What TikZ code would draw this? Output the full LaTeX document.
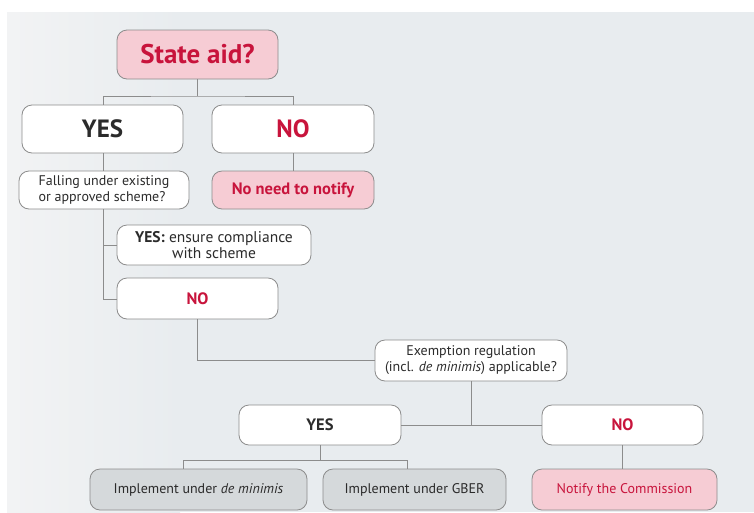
\documentclass[tikz,border=0pt]{standalone}
\usepackage{fontspec}
\setmainfont{PT Sans}
\begin{document}
\definecolor{panel}{HTML}{E8ECEF}
\definecolor{panelL}{HTML}{F2F3F4}
\definecolor{edge}{HTML}{8C8C8C}
\definecolor{hot}{HTML}{C8143C}
\definecolor{ink}{HTML}{2B2B2B}
\definecolor{pinkfill}{HTML}{F6CCD4}
\definecolor{grayfill}{HTML}{D5D9DB}
\tikzset{
  box/.style={draw=edge, line width=0.8pt, rounded corners=10pt, fill=white,
    inner sep=0pt, text=ink},
  pinkbox/.style={box, fill=pinkfill},
  graybox/.style={box, fill=grayfill},
  big/.style={font=\fontsize{25}{27}\selectfont\bfseries},
  mid/.style={font=\fontsize{16.5}{18}\selectfont\bfseries},
  small/.style={font=\fontsize{14}{16}\selectfont},
  link/.style={draw=edge, line width=0.8pt},
}
\begin{tikzpicture}[x=1pt, y=-1pt]
  \useasboundingbox (0,0) rectangle (754,512);
  % backdrop panel
  \shade[left color=panelL, right color=panel] (7,12) rectangle (180,512);
  \fill[panel] (179.5,12) rectangle (754,512);
  \fill[panelL] (7,12) rectangle (20,512);

  % top level
  \node[pinkbox, font=\fontsize{27}{29}\selectfont\bfseries, text=hot, minimum width=161pt, minimum height=49pt] (sa) at (197.5,54.5) {State aid?};
  \node[box, big, minimum width=161pt, minimum height=48pt] (yes1) at (102.5,129) {YES};
  \node[box, big, text=hot, minimum width=162pt, minimum height=48pt] (no1) at (293,129) {NO};

  % second level
  \node[box, small, minimum width=170pt, minimum height=38pt, align=left] (fall) at (104,190)
    {Falling under existing\\or approved scheme?};
  \node[pinkbox, mid, text=hot, minimum width=162pt, minimum height=38pt] (nonote) at (293,190) {No need to notify};

  % scheme branch
  \node[box, font=\fontsize{15.5}{16}\selectfont, minimum width=194pt, minimum height=40pt, align=center] (yescomp) at (214,245)
    {\textbf{YES:} ensure compliance\\with scheme};
  \node[box, mid, text=hot, minimum width=161pt, minimum height=41pt] (no2) at (197.5,298.5) {NO};

  % exemption question
  \node[box, small, minimum width=192pt, minimum height=41pt, align=center] (exem) at (471,360.5)
    {Exemption regulation\\(incl. \textit{de minimis}) applicable?};
  \node[box, mid, minimum width=162pt, minimum height=40pt] (yes3) at (320,425) {YES};
  \node[box, mid, text=hot, minimum width=161pt, minimum height=40pt] (no3) at (622.5,425) {NO};

  % outcomes
  \node[graybox, small, minimum width=217pt, minimum height=41pt] (demin) at (198.5,489.5)
    {Implement under \textit{de minimis}};
  \node[graybox, small, minimum width=183pt, minimum height=41pt] (gber) at (414.5,489.5)
    {Implement under GBER};
  \node[pinkbox, small, text=hot, minimum width=185pt, minimum height=41pt] (notify) at (624.5,489.5)
    {Notify the Commission};

  % junction points
  \coordinate (j1) at (197.5,96);
  \coordinate (j2) at (103,299);
  \coordinate (jl) at (183,460);
  \coordinate (jr) at (407,460);

  % connectors
  \draw[link] (sa.south) -- (j1);
  \draw[link] (yes1.north -| 103,0) |- (j1) -| (no1.north);
  \draw[link] (yes1.south -| 103,0) -- (fall.north -| 103,0);
  \draw[link] (no1.south) -- (nonote.north);
  \draw[link] (fall.south -| j2) -- (j2) -- (no2.west |- j2);
  \draw[link] (j2 |- yescomp.west) -- (yescomp.west);
  \draw[link] (no2.south) |- (exem.west);
  \draw[link] (exem.south) -- (exem.south |- yes3.east);
  \draw[link] (yes3.east) -- (no3.west);
  \draw[link] (yes3.south) -- (yes3.south |- jl);
  \draw[link] (demin.north -| jl) -- (jl) -- (jr) -- (gber.north -| jr);
  \draw[link] (no3.south) -- (no3.south |- notify.north);
\end{tikzpicture}
\end{document}
